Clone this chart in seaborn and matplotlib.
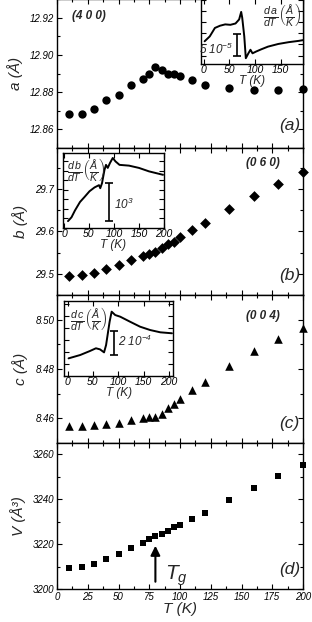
import numpy as np
import pandas as pd
import seaborn as sns
import matplotlib.pyplot as plt
from matplotlib.ticker import MultipleLocator, NullFormatter

# temperatures of the diffraction points
temps = [10, 20, 30, 40, 50, 60, 70, 75, 80, 85, 90, 95, 100, 110, 120, 140, 160, 180, 200]

a_vals = [12.868, 12.868, 12.871, 12.8757, 12.8787, 12.8836, 12.8868, 12.890, 12.8934, 12.892,
          12.890, 12.890, 12.8886, 12.8863, 12.884, 12.8823, 12.8814, 12.881, 12.8818]
b_vals = [29.4945, 29.497, 29.503, 29.512, 29.5205, 29.5316, 29.542, 29.547, 29.552, 29.560,
          29.5696, 29.575, 29.586, 29.603, 29.620, 29.6526, 29.6826, 29.7126, 29.7395]
c_vals = [8.4569, 8.4570, 8.4573, 8.4576, 8.4582, 8.4592, 8.4601, 8.4604, 8.4607, 8.4619,
          8.4642, 8.4659, 8.4677, 8.4716, 8.4749, 8.4812, 8.4873, 8.4920, 8.4966]
v_vals = [3209.4, 3209.7, 3211.2, 3213.4, 3215.4, 3218.1, 3220.6, 3222.2, 3223.7, 3224.7,
          3226.0, 3227.4, 3228.7, 3231.3, 3234.0, 3239.7, 3245.0, 3250.1, 3255.0]

# derivative insets (arbitrary units)
da_T = [2, 12, 22, 32, 42, 52, 62, 69, 73, 75, 79, 82, 87, 91, 95, 102, 112, 125, 145, 165, 185, 200]
da_y = [5.7, 6.8, 8.7, 9.2, 9.5, 9.4, 9.7, 10.6, 12.3, 11.0, 6.8, 1.9, 3.0, 3.8, 3.0, 3.4, 3.9,
        4.5, 5.1, 5.5, 5.8, 6.1]
db_T = [8, 15, 22, 32, 41, 51, 61, 70, 72.5, 76, 81, 84, 87.5, 92, 97.5, 103, 111, 130, 150, 170, 198]
db_y = [0.18, 0.28, 0.46, 0.68, 0.81, 0.96, 1.06, 1.12, 1.04, 1.17, 1.52, 1.65, 1.57, 1.70, 1.83,
        1.74, 1.65, 1.63, 1.57, 1.48, 1.39]
dc_T = [2, 25, 44, 56, 64, 72, 76, 83, 87, 94, 104, 123, 143, 163, 183, 206]
dc_y = [1.47, 1.75, 2.08, 2.31, 2.22, 1.97, 2.58, 4.53, 5.36, 5.08, 4.94, 4.53, 4.11, 3.83, 3.64, 3.56]

sns.set_style('ticks')
plt.rcParams['font.family'] = ['Liberation Sans', 'DejaVu Sans']
plt.rcParams['font.style'] = 'italic'
plt.rcParams['mathtext.fontset'] = 'custom'
plt.rcParams['mathtext.it'] = 'Liberation Sans:italic'
plt.rcParams['mathtext.rm'] = 'Liberation Sans:italic'
plt.rcParams['mathtext.sf'] = 'Liberation Sans:italic'

W, H = 312, 622
fig = plt.figure(figsize=(W / 100, H / 100), dpi=100)


def px_axes(x0, y0, x1, y1):
    return fig.add_axes([x0 / W, 1 - y1 / H, (x1 - x0) / W, (y1 - y0) / H])


def style(ax, xmaj, xmin, ymaj, ymin, size=7):
    ax.xaxis.set_major_locator(MultipleLocator(xmaj))
    ax.xaxis.set_minor_locator(MultipleLocator(xmin))
    ax.yaxis.set_major_locator(MultipleLocator(ymaj))
    ax.yaxis.set_minor_locator(MultipleLocator(ymin))
    ax.tick_params(which='both', direction='in', top=True, right=True, labelsize=size,
                   width=0.8, colors='k', pad=2)
    ax.tick_params(which='major', length=3.5)
    ax.tick_params(which='minor', length=2)
    for s in ax.spines.values():
        s.set_linewidth(1.0)
        s.set_color('k')


df = pd.DataFrame({'T': temps, 'a': a_vals, 'b': b_vals, 'c': c_vals, 'V': v_vals})

panels = [
    ('a', 'o', (12.85, 12.93), 0.02, 0.01, 'a (Å)', '(a)', 12.862, -1, 148),
    ('b', 'D', (29.45, 29.797), 0.1, 0.05, 'b (Å)', '(b)', 29.496, 148, 295),
    ('c', '^', (8.45, 8.51), 0.02, 0.01, 'c (Å)', '(c)', 8.458, 295, 443),
    ('V', 's', (3200, 3265), 20, 10, 'V (Å³)', '(d)', 3208.5, 443, 589),
]
sizes = {'o': 36, 'D': 30, '^': 38, 's': 22}

axes = []
for col, mk, ylim, ymaj, ymin, ylab, tag, tag_y, top, bot in panels:
    ax = px_axes(57, top, 303, bot)
    sns.scatterplot(data=df, x='T', y=col, marker=mk, s=sizes[mk], color='k',
                    edgecolor='k', linewidth=0, ax=ax, clip_on=False, zorder=3)
    ax.set_xlim(0, 200)
    ax.set_ylim(*ylim)
    style(ax, 25, 12.5, ymaj, ymin)
    ax.set_ylabel(ylab, fontsize=11, labelpad=5)
    ax.set_xlabel('')
    ax.text(189, tag_y, tag, fontsize=12.5, ha='center', va='center')
    if col != 'V':
        ax.xaxis.set_major_formatter(NullFormatter())
    axes.append(ax)

ax_a, ax_b, ax_c, ax_d = axes
ax_d.set_xlabel('T (K)', fontsize=11, labelpad=0)
ax_d.annotate('', xy=(80, 3220.5), xytext=(80, 3202),
              arrowprops=dict(arrowstyle='-|>', color='k', lw=1.5, mutation_scale=14))
ax_d.text(88, 3206, '$T_g$', fontsize=15, ha='left', va='center')

ax_a.text(12, 12.921, '(4 0 0)', fontsize=8.5, fontweight='bold', ha='left', va='center')
ax_b.text(154, 29.762, '(0 6 0)', fontsize=8.5, fontweight='bold', ha='left', va='center')
ax_c.text(154, 8.5015, '(0 0 4)', fontsize=8.5, fontweight='bold', ha='left', va='center')

# insets
insets = [
    (da_T, da_y, (201, -1, 303, 64), (-5, 193), (0.6, 15.2), 50, 2.5,
     r'$\frac{d\,a}{dT}\left(\frac{\AA}{K}\right)$', (190, 11.6, 'right'),
     (64, 4.9, 2.5), r'5 10$^{-5}$', (58, 3.8, 'right')),
    (db_T, db_y, (63, 153, 164, 228), (-2, 200), (0, 1.96), 50, 0.25,
     r'$\frac{d\,b}{dT}\left(\frac{\AA}{K}\right)$', (6, 1.5, 'left'),
     (89, 0.67, 0.5), r'10$^3$', (100, 0.62, 'left')),
    (dc_T, dc_y, (64, 301, 173, 376), (-7, 208), (0, 6.25), 50, 1.0,
     r'$\frac{d\,c}{dT}\left(\frac{\AA}{K}\right)$', (4, 4.7, 'left'),
     (92.5, 2.75, 1.0), r'2 10$^{-4}$', (100, 2.9, 'left')),
]
for tt, yy, box, xl, yl, xmaj, ymaj, lab, lab_pos, bar, bar_lab, bar_pos in insets:
    ins = px_axes(*box)
    sns.lineplot(x=tt, y=yy, color='k', lw=1.4, ax=ins, sort=False)
    ins.set_xlim(*xl)
    ins.set_ylim(*yl)
    style(ins, xmaj, xmaj, ymaj, ymaj, size=7.5)
    ins.yaxis.set_major_formatter(NullFormatter())
    ins.tick_params(which='minor', length=0)
    ins.tick_params(axis='x', pad=1)
    ins.set_xlabel('T (K)', fontsize=8.5, labelpad=0)
    ins.set_ylabel('')
    ins.text(lab_pos[0], lab_pos[1], lab, fontsize=11, ha=lab_pos[2], va='center')
    ins.errorbar(bar[0], bar[1], yerr=bar[2], color='k', lw=1.2, capsize=3, capthick=1.2)
    ins.text(bar_pos[0], bar_pos[1], bar_lab, fontsize=8.5, ha=bar_pos[2], va='center')

fig.savefig('out.png', dpi=100)
